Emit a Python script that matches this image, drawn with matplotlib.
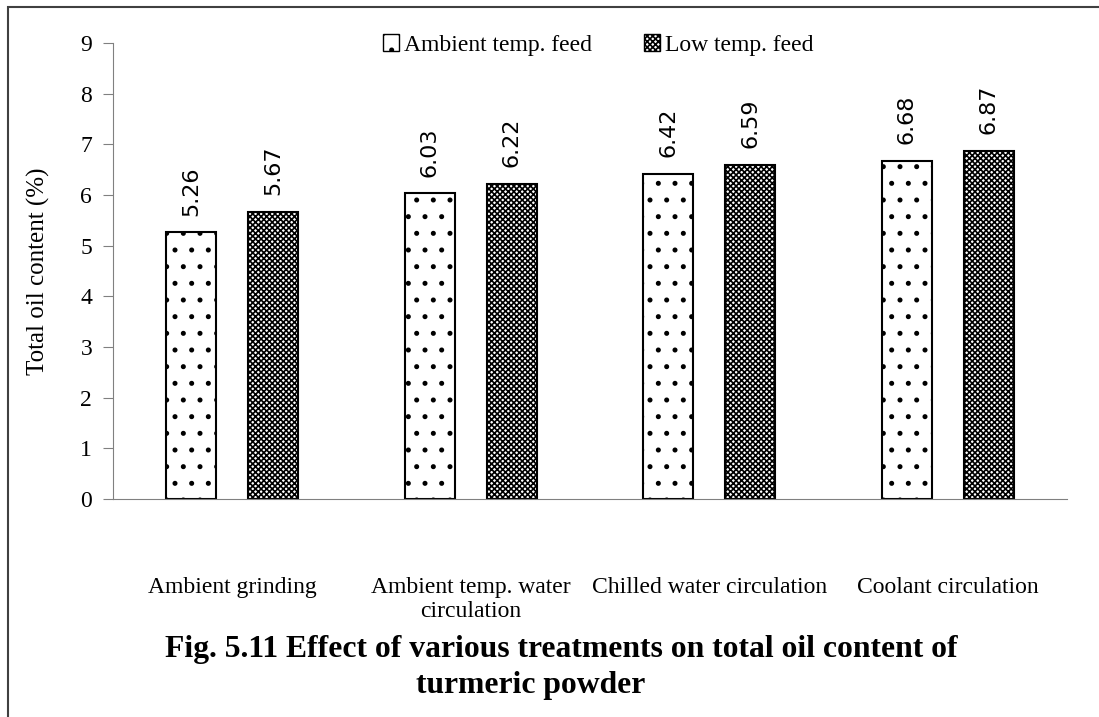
import numpy as np
import matplotlib.pyplot as plt
from matplotlib.patches import Rectangle, Patch

plt.rcParams['font.family'] = ['Liberation Serif', 'DejaVu Serif']
plt.rcParams['hatch.linewidth'] = 1.2

categories = ['Ambient grinding', 'Ambient temp. water\ncirculation',
              'Chilled water circulation', 'Coolant circulation']
ambient_feed = [5.26, 6.03, 6.42, 6.68]
low_feed = [5.67, 6.22, 6.59, 6.87]
series_names = ['Ambient temp. feed', 'Low temp. feed']

W, H = 1099, 717
fig = plt.figure(figsize=(W / 100, H / 100), dpi=100)
ax = fig.add_axes([113 / W, 1 - 499 / H, (1067 - 113) / W, (499 - 43) / H])

x = np.arange(len(categories))
bw = 0.21
off = 0.172
b1 = ax.bar(x - off, ambient_feed, bw, facecolor='white', edgecolor='black',
            linewidth=1.5, hatch='.')
b2 = ax.bar(x + off, low_feed, bw, facecolor='white', edgecolor='black',
            linewidth=1.5, hatch='xxxxxx')

for bars, vals in ((b1, ambient_feed), (b2, low_feed)):
    for b, v in zip(bars, vals):
        ax.annotate(f'{v:.2f}', (b.get_x() + b.get_width() / 2, v),
                    xytext=(0, 12), textcoords='offset points',
                    rotation=90, ha='center', va='bottom',
                    fontsize=16, family=['DejaVu Sans'])

ax.set_xlim(-0.5, len(categories) - 0.5)
ax.set_ylim(0, 9)
ax.set_yticks(range(0, 10))
ax.tick_params(axis='y', labelsize=17, color='#808080', length=7, pad=8)
ax.set_xticks(x)
ax.set_xticklabels(categories, fontsize=17, linespacing=1.2)
ax.tick_params(axis='x', length=0, pad=56)
for s in ['top', 'right']:
    ax.spines[s].set_visible(False)
for s in ['left', 'bottom']:
    ax.spines[s].set_color('#808080')
ax.set_ylabel('Total oil content (%)', fontsize=18, labelpad=22)

handles = [Patch(facecolor='white', edgecolor='black', hatch='.'),
           Patch(facecolor='white', edgecolor='black', hatch='xxxxxx')]
fig.legend(handles, series_names, loc='center', bbox_to_anchor=(598 / W, 1 - 45 / H),
           ncol=2, frameon=False, fontsize=17, handlelength=0.7, handleheight=0.7,
           handletextpad=0.2, columnspacing=2.2)

fig.text(561 / W, 1 - 650 / H,
         'Fig. 5.11 Effect of various treatments on total oil content of',
         ha='center', va='center', fontsize=22.8, fontweight='bold')
fig.text(531 / W, 1 - 685 / H, 'turmeric powder',
         ha='center', va='center', fontsize=22.8, fontweight='bold')

fig.patches.append(Rectangle((8 / W, -0.1), 1.2, 1.1 - 7 / H, transform=fig.transFigure,
                             fill=False, edgecolor='#404040', linewidth=1.5))

fig.savefig('out.png', dpi=100)
